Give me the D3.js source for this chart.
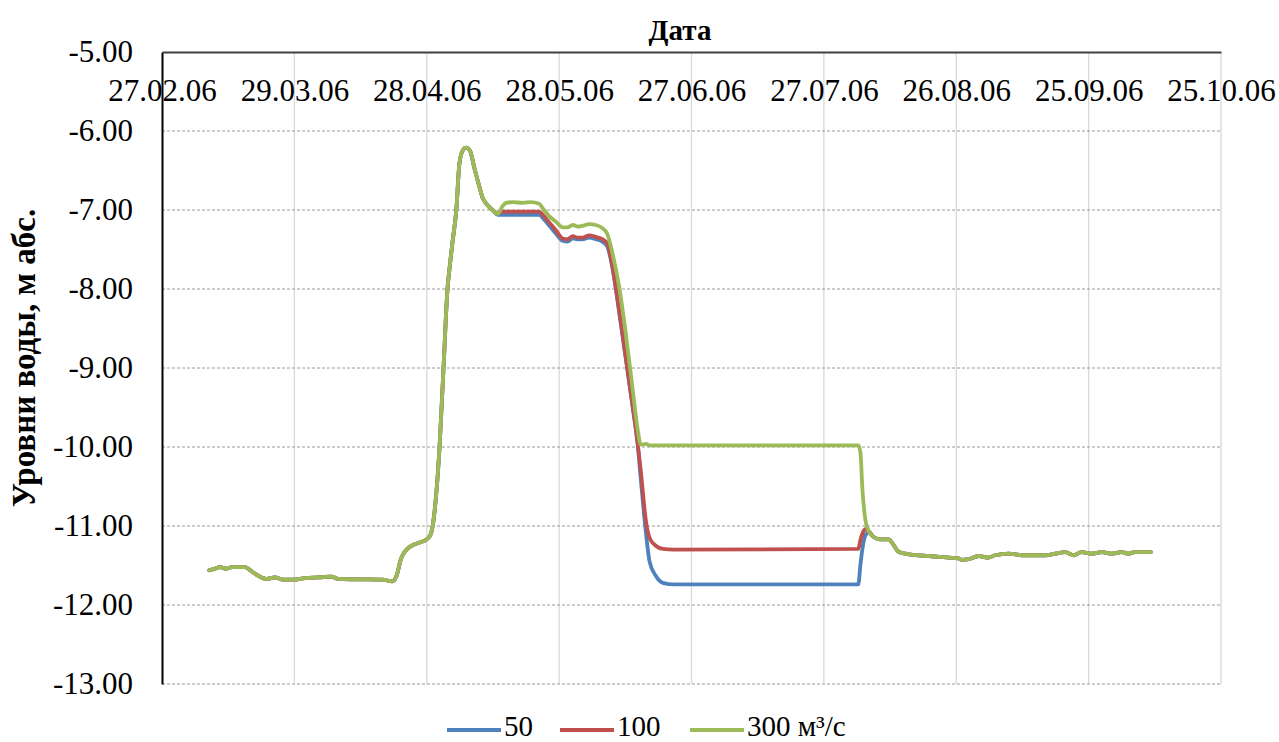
<!DOCTYPE html>
<html>
<head>
<meta charset="utf-8">
<script src="https://cdn.jsdelivr.net/npm/d3@7"></script>
<style>
  html, body { margin: 0; padding: 0; background: #fff; }
  svg { display: block; }
  svg text { font-family: 'Liberation Serif', 'Times New Roman', serif; }
</style>
</head>
<body>
<svg id="chart" width="1279" height="742"></svg>
<script>
// ---- DATA ----
// days counted from 27.02.06
const days = [
  10.7, 12, 13.1, 14.6, 15.8, 18.8, 20.7, 23.7, 25.6, 27.4, 29.7, 32.4, 35.7, 38.4, 39.9, 44, 50, 52.2, 53.1,
  54.2, 55.4, 56.9, 58.4, 60.2, 61, 61.8, 62.9, 63.8, 64.7, 65.2, 65.9, 66.7, 67.4, 68.2, 68.9, 69.8, 70.8,
  71.9, 72.7, 73.8, 74.9, 76.1, 77.2, 78, 79.5, 81.8, 83.6, 85.5, 86.3, 87.8, 89.3, 90.8, 91.9, 93.1, 94.2,
  95.3, 96.8, 98.3, 99.8, 100.9, 102.1, 103.6, 105.1, 106.6, 107.8, 108.5, 109.7, 110.5, 111.9, 113.5, 116,
  157.8, 158.3, 158.7, 159.4, 160.2, 161.3, 162.8, 164.7, 165.8, 167, 168.5, 170.7, 173.8, 176, 178.3, 180.5,
  181.3, 182.8, 185.1, 187.3, 188.8, 191.9, 194.9, 200.2, 202.4, 204.7, 206.6, 208.4, 210.7, 213, 215.2,
  217.5, 219, 220.5, 224.1
];
const common = [
  -11.56, -11.54, -11.52, -11.54, -11.52, -11.52, -11.59, -11.67, -11.65, -11.68, -11.68, -11.66, -11.65, -11.64, -11.67, -11.675, -11.68, -11.70, -11.64,
  -11.41, -11.30, -11.24, -11.21, -11.16, -11.09, -10.80, -10.0, -9.0, -8.0, -7.72, -7.38, -7.0, -6.41, -6.24, -6.21, -6.25, -6.47,
  -6.70, -6.85, -6.94, -7.0
];
const tail = [
  -11.17, -11.17, -11.24, -11.33, -11.35, -11.37, -11.38, -11.39, -11.40, -11.41,
  -11.43, -11.42, -11.38, -11.40, -11.37, -11.35, -11.37, -11.37, -11.35, -11.33, -11.37, -11.33, -11.35, -11.33, -11.35,
  -11.33, -11.35, -11.33, -11.33
];
const mid50 = [
  -7.06, -7.06, -7.06, -7.06, -7.06, -7.06, -7.06, -7.10, -7.20, -7.30, -7.39, -7.40, -7.36, -7.37,
  -7.37, -7.35, -7.37, -7.40, -7.46, -7.74, -8.29, -8.88, -9.47, -9.97, -10.40, -11.10, -11.45, -11.63, -11.72, -11.74,
  -11.74, -11.48, -11.30, -11.12, -11.08, -11.14
];
const mid100 = [
  -7.04, -7.02, -7.02, -7.02, -7.02, -7.02, -7.02, -7.06, -7.16, -7.26, -7.36, -7.37, -7.33, -7.35,
  -7.35, -7.32, -7.34, -7.37, -7.42, -7.72, -8.27, -8.86, -9.45, -9.95, -10.30, -10.95, -11.15, -11.25, -11.29, -11.30,
  -11.29, -11.17, -11.10, -11.04, -11.07, -11.14
];
const mid300 = [
  -7.05, -6.95, -6.91, -6.90, -6.91, -6.90, -6.92, -6.98, -7.08, -7.15, -7.22, -7.22, -7.19, -7.21,
  -7.20, -7.18, -7.19, -7.23, -7.30, -7.55, -7.97, -8.56, -9.24, -9.78, -9.97, -9.96, -9.98, -9.98, -9.98, -9.98,
  -9.98, -10.08, -10.50, -10.92, -11.07, -11.14
];
const seriesNames = ["50", "100", "300 м³/с"];
const seriesColors = ["#4F81BD", "#C0504D", "#9BBB59"];
const tickDays = [0, 30, 60, 90, 120, 150, 180, 210, 240];
const tickLabels = ["27.02.06", "29.03.06", "28.04.06", "28.05.06", "27.06.06", "27.07.06", "26.08.06", "25.09.06", "25.10.06"];
const yTicks = [-5, -6, -7, -8, -9, -10, -11, -12, -13];
const xTitle = "Дата";
const yTitle = "Уровни воды, м абс.";

// ---- CHART ----
const svg = d3.select("#chart");
const L = 162, R = 1221, T = 52, B = 684;
const x = d3.scaleLinear().domain([0, 240]).range([L, R]);
const y = d3.scaleLinear().domain([-5, -13]).range([T, B]);
const font = "'Liberation Serif', 'Times New Roman', serif";

// vertical grid
svg.append("g").selectAll("line").data(tickDays.slice(1)).join("line")
  .attr("x1", d => x(d)).attr("x2", d => x(d)).attr("y1", T).attr("y2", B)
  .attr("stroke", "#d9d9d9").attr("stroke-width", 1.3);
// horizontal grid
svg.append("g").selectAll("line").data(yTicks.slice(1)).join("line")
  .attr("x1", L).attr("x2", R).attr("y1", d => y(d)).attr("y2", d => y(d))
  .attr("stroke", "#9a9a9a").attr("stroke-width", 1).attr("stroke-dasharray", "3,2");

// y axis
const yAxis = d3.axisLeft(y).tickValues(yTicks).tickFormat(v => v.toFixed(2)).tickSize(0).tickPadding(29);
const gy = svg.append("g").attr("transform", `translate(${L},0)`).call(yAxis);
gy.attr("font-family", null);
gy.select(".domain").attr("stroke", "#000").attr("stroke-width", 2);
gy.selectAll("text").style("font-family", font).attr("font-size", 31).attr("fill", "#000");

// x axis (top, labels below line)
const xAxis = d3.axisBottom(x).tickValues(tickDays).tickFormat((d, i) => tickLabels[i]).tickSize(0).tickPadding(27);
const gx = svg.append("g").attr("transform", `translate(0,${T})`).call(xAxis);
gx.attr("font-family", null);
gx.select(".domain").attr("stroke", "#404040").attr("stroke-width", 2);
gx.selectAll("text").style("font-family", font).attr("font-size", 31).attr("fill", "#000");

// lines
const mids = [mid50, mid100, mid300];
const line = d3.line().x(d => x(d[0])).y(d => y(d[1])).curve(d3.curveMonotoneX);
mids.forEach((mid, i) => {
  const vals = common.concat(mid, tail);
  const pts = days.map((d, k) => [d, vals[k]]);
  svg.append("path").datum(pts).attr("d", line)
    .attr("fill", "none").attr("stroke", seriesColors[i]).attr("stroke-width", 3.8)
    .attr("stroke-linejoin", "round").attr("stroke-linecap", "round");
});

// titles
svg.append("text").attr("x", 680).attr("y", 40).attr("text-anchor", "middle")
  .style("font-family", font).attr("font-weight", "bold").attr("font-size", 29).text(xTitle);
svg.append("text").attr("transform", "translate(35,358) rotate(-90)").attr("text-anchor", "middle")
  .style("font-family", font).attr("font-weight", "bold").attr("font-size", 33).text(yTitle);

// legend
const legendX = [447, 560, 690];
const lg = svg.append("g");
seriesNames.forEach((n, i) => {
  lg.append("line").attr("x1", legendX[i]).attr("x2", legendX[i] + 54).attr("y1", 730).attr("y2", 730)
    .attr("stroke", seriesColors[i]).attr("stroke-width", 4);
  lg.append("text").attr("x", legendX[i] + 57).attr("y", 736)
    .style("font-family", font).attr("font-size", 29).text(n);
});
</script>
</body>
</html>
